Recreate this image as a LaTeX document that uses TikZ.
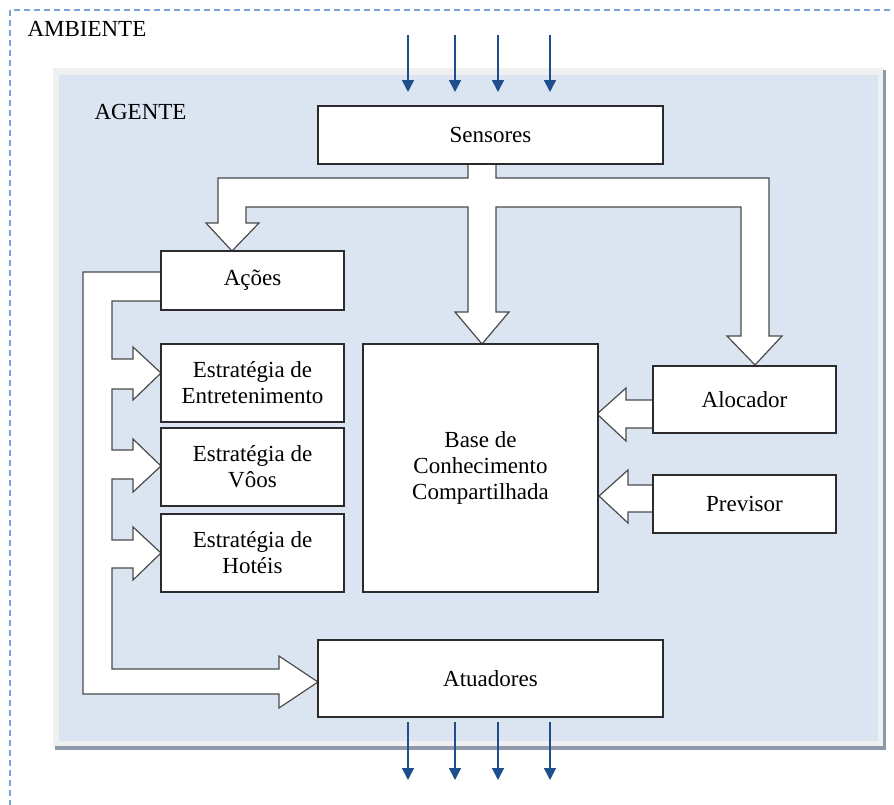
\documentclass[tikz,border=0pt]{standalone}
\usepackage{fontspec}
\setmainfont{Liberation Serif}
\usetikzlibrary{arrows.meta}
\definecolor{panelfill}{HTML}{DBE5F1}
\definecolor{panelrim}{HTML}{F0F0F0}
\definecolor{panelshadow}{HTML}{8E9AAA}
\definecolor{ambline}{HTML}{7AA3D6}
\definecolor{boxline}{HTML}{2B2B2B}
\definecolor{arrline}{HTML}{4A4A4A}
\definecolor{sigblue}{HTML}{1F4E8C}
\begin{document}
\begin{tikzpicture}[x=1pt,y=-1pt,
  txt/.style={font=\fontsize{23}{26}\selectfont, text=black},
  box/.style={txt, draw=boxline, line width=1.3pt, fill=white, inner sep=0pt, outer sep=0pt, anchor=north west, align=center},
  blockarrow/.style={draw=arrline, fill=white, line width=1.2pt, line join=miter},
  signal/.style={draw=sigblue, line width=1.6pt, -{Triangle[width=12pt,length=12pt]}, shorten >=0pt}
]
\useasboundingbox (0,0) rectangle (894,804);
\begin{scope}
\clip (0,0) rectangle (894,804);
% ambiente
\draw[ambline, line width=1.5pt, dash pattern=on 6pt off 4pt] (10,10) rectangle (910,820);
\node[txt, anchor=west] (amb) at (24,29) {AMBIENTE};
% agente panel
\fill[panelrim] (53,68) rectangle (884,748);
\fill[panelshadow] (55,746) rectangle (886,750);
\fill[panelshadow] (883,70) rectangle (886,750);
\fill[panelfill] (59,75) rectangle (878,741);
\node[txt, anchor=west] (ag) at (91,112) {AGENTE};

% block arrows
\draw[blockarrow] (468,164) -- (496,164) -- (496,178) -- (769,178) -- (769,336) -- (782,336) -- (755,365) -- (727,336) -- (741,336) -- (741,207) -- (496,207) -- (496,312) -- (509,312) -- (482,344) -- (455,312) -- (468,312) -- (468,207) -- (246,207) -- (246,223) -- (259,223) -- (232,251) -- (206,223) -- (218,223) -- (218,178) -- (468,178) -- cycle;

\draw[blockarrow] (161,272) -- (83,272) -- (83,694) -- (279,694) -- (279,708) -- (318,682) -- (279,656) -- (279,669) -- (112,669) -- (112,568) -- (133,568) -- (133,580) -- (161,553) -- (133,527) -- (133,540) -- (112,540) -- (112,479) -- (133,479) -- (133,492) -- (161,466) -- (133,439) -- (133,450) -- (112,450) -- (112,389) -- (133,389) -- (133,400) -- (161,373) -- (133,347) -- (133,359) -- (112,359) -- (112,301) -- (161,301) -- cycle;

\draw[blockarrow] (653,400) -- (626,400) -- (626,388) -- (597,414) -- (626,441) -- (626,428) -- (653,428) -- cycle;
\draw[blockarrow] (653,485) -- (628,485) -- (628,470) -- (599,496) -- (628,523) -- (628,512) -- (653,512) -- cycle;

% boxes
\node[box, minimum width=345pt, minimum height=58pt] (sens) at (318,106) {Sensores};
\node[box, minimum width=183pt, minimum height=59pt] (acoes) at (161,251) {Ações};
\node[box, minimum width=183pt, minimum height=78pt] (ent) at (161,344) {Estratégia de\\Entretenimento};
\node[box, minimum width=183pt, minimum height=78pt] (voo) at (161,428) {Estratégia de\\Vôos};
\node[box, minimum width=183pt, minimum height=78pt] (hot) at (161,514) {Estratégia de\\Hotéis};
\node[box, minimum width=235pt, minimum height=248pt] (base) at (363,344) {Base de\\Conhecimento\\Compartilhada};
\node[box, minimum width=183pt, minimum height=67pt] (aloc) at (653,366) {Alocador};
\node[box, minimum width=183pt, minimum height=58pt] (prev) at (653,475) {Previsor};
\node[box, minimum width=345pt, minimum height=77pt] (atu) at (318,640) {Atuadores};

% signals in / out
\foreach \xx [count=\i] in {408,455,498,550} {
  \coordinate (in\i) at (\xx,35);
  \coordinate (inend\i) at (\xx,92);
  \draw[signal] (in\i) -- (inend\i);
  \coordinate (out\i) at (\xx,722);
  \coordinate (outend\i) at (\xx,780);
  \draw[signal] (out\i) -- (outend\i);
}
\end{scope}
\end{tikzpicture}
\end{document}
